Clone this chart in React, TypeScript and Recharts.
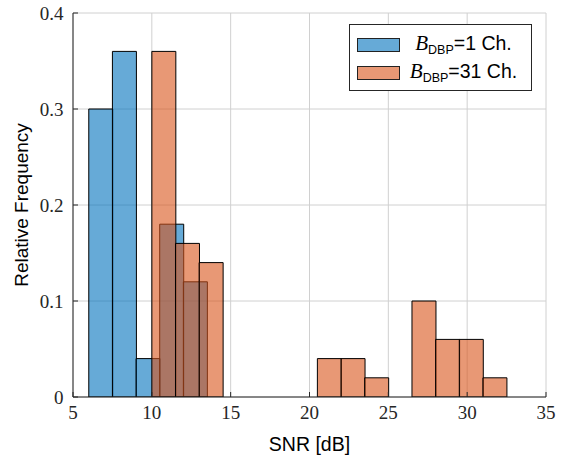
import { ComposedChart, Bar, XAxis, YAxis, CartesianGrid, Legend } from 'recharts';

// histogram bins (centres, width 1.5 dB) and relative frequencies
const centers1Ch = [6.75, 8.25, 9.75, 11.25, 12.75, 14.25, 15.75, 17.25, 18.75, 20.25, 21.75, 23.25, 24.75, 26.25, 27.75];
const freq1Ch = [0.3, 0.36, 0.04, 0.18, 0.12, 0, 0, 0, 0, 0, 0, 0, 0, 0, 0];
const centers31Ch = [10.75, 12.25, 13.75, 15.25, 16.75, 18.25, 19.75, 21.25, 22.75, 24.25, 25.75, 27.25, 28.75, 30.25, 31.75];
const freq31Ch = [0.36, 0.16, 0.14, 0, 0, 0, 0, 0.04, 0.04, 0.02, 0, 0.1, 0.06, 0.06, 0.02];

const xTicks = [5, 10, 15, 20, 25, 30, 35];
const yTicks = [0, 0.1, 0.2, 0.3, 0.4];
const legendLabels = ['=1 Ch.', '=31 Ch.'];

const data = freq31Ch.map((f, i) => ({
  x1: centers1Ch[i],
  f1: freq1Ch[i],
  x31: centers31Ch[i],
  f31: f,
}));

const BLUE = 'rgb(0,114,189)';
const ORANGE = 'rgb(217,83,25)';
const BLUE_LIGHT = 'rgba(0,114,189,0.6)';
const ORANGE_LIGHT = 'rgba(217,83,25,0.6)';
const AXIS = '#262626';
const SERIF = "'Liberation Serif'";
const SANS = "'Liberation Sans'";

const renderBottomTick = (props: any) => {
  const { x, y, payload } = props;
  return (
    <g key={`bt-${payload.value}`}>
      <line x1={x} y1={y} x2={x} y2={y - 5} stroke={AXIS} />
      <text x={x} y={y + 22} textAnchor="middle" fontFamily={SERIF} fontSize={19} fill={AXIS}>
        {String(payload.value)}
      </text>
    </g>
  );
};

const renderTopTick = (props: any) => {
  const { x, y, payload } = props;
  return <line key={`tt-${payload.value}`} x1={x} y1={y} x2={x} y2={y + 5} stroke={AXIS} />;
};

const renderLeftTick = (props: any) => {
  const { x, y, payload } = props;
  return (
    <g key={`lt-${payload.value}`}>
      <line x1={x} y1={y} x2={x + 5} y2={y} stroke={AXIS} />
      <text x={x - 9.5} y={y + 6.5} textAnchor="end" fontFamily={SERIF} fontSize={19} fill={AXIS}>
        {String(payload.value)}
      </text>
    </g>
  );
};

const renderRightTick = (props: any) => {
  const { x, y, payload } = props;
  return <line key={`rt-${payload.value}`} x1={x} y1={y} x2={x - 5} y2={y} stroke={AXIS} />;
};

const LegendBox = () => {
  const colors = [BLUE_LIGHT, ORANGE_LIGHT];
  return (
    <div
      style={{
        width: 183,
        height: 67,
        boxSizing: 'border-box',
        border: `1px solid ${AXIS}`,
        background: '#fff',
        position: 'relative',
      }}
    >
      {legendLabels.map((label, i) => (
        <div
          key={label}
          style={{ position: 'absolute', left: 7, top: 12 + i * 28, height: 15, width: 170, display: 'flex', alignItems: 'center' }}
        >
          <div
            style={{
              width: 43,
              height: 14,
              boxSizing: 'border-box',
              border: '1px solid #222',
              background: colors[i],
            }}
          />
          <div style={{ flex: 1, textAlign: 'center', whiteSpace: 'nowrap', color: '#000', lineHeight: '15px' }}>
            <span style={{ fontFamily: SERIF, fontStyle: 'italic', fontSize: 21 }}>B</span>
            <span style={{ fontFamily: SANS, fontSize: 12.5, position: 'relative', top: 4 }}>DBP</span>
            <span style={{ fontFamily: SANS, fontSize: 19.5 }}>{label}</span>
          </div>
        </div>
      ))}
    </div>
  );
};

export default function App() {
  return (
    <div style={{ position: 'absolute', left: 0, top: 0, background: '#fff' }}>
      <ComposedChart
        width={565}
        height={457}
        data={data}
        margin={{ top: 13, right: 19, left: 0, bottom: 0 }}
        barCategoryGap={0}
        barGap={0}
      >
        <CartesianGrid xAxisId="bottom" yAxisId="left" stroke="#d0d0d0" strokeWidth={1} />
        <XAxis
          xAxisId="bottom"
          dataKey="x1"
          type="number"
          domain={[5, 35]}
          ticks={xTicks}
          allowDataOverflow
          height={60}
          tickSize={0}
          tickMargin={0}
          tickLine={false}
          axisLine={{ stroke: AXIS }}
          tick={renderBottomTick}
          interval={0}
          label={(p: any) => (
            <text
              x={p.viewBox.x + p.viewBox.width / 2}
              y={p.viewBox.y + 53.5}
              textAnchor="middle"
              fontFamily={SANS}
              fontSize={19.5}
              fill="#000"
            >
              SNR [dB]
            </text>
          )}
        />
        <XAxis
          xAxisId="top"
          orientation="top"
          dataKey="x31"
          type="number"
          domain={[5, 35]}
          ticks={xTicks}
          allowDataOverflow
          height={0}
          tickSize={0}
          tickMargin={0}
          tickLine={false}
          axisLine={{ stroke: AXIS }}
          tick={renderTopTick}
          interval={0}
        />
        <YAxis
          yAxisId="left"
          type="number"
          domain={[0, 0.4]}
          ticks={yTicks}
          allowDataOverflow
          width={73}
          tickSize={0}
          tickMargin={0}
          tickLine={false}
          axisLine={{ stroke: AXIS }}
          tick={renderLeftTick}
          interval={0}
          label={(p: any) => {
            const cx = 28;
            const cy = p.viewBox.y + p.viewBox.height / 2;
            return (
              <text
                x={cx}
                y={cy}
                transform={`rotate(-90 ${cx} ${cy})`}
                textAnchor="middle"
                fontFamily={SANS}
                fontSize={19}
                fill="#000"
              >
                Relative Frequency
              </text>
            );
          }}
        />
        <YAxis
          yAxisId="right"
          orientation="right"
          type="number"
          domain={[0, 0.4]}
          ticks={yTicks}
          allowDataOverflow
          width={0}
          tickSize={0}
          tickMargin={0}
          tickLine={false}
          axisLine={{ stroke: AXIS }}
          tick={renderRightTick}
          interval={0}
        />
        <Bar
          xAxisId="bottom"
          yAxisId="left"
          dataKey="f1"
          fill={BLUE}
          fillOpacity={0.6}
          stroke="#000"
          strokeWidth={1}
          isAnimationActive={false}
        />
        <Bar
          xAxisId="top"
          yAxisId="left"
          dataKey="f31"
          fill={ORANGE}
          fillOpacity={0.6}
          stroke="#000"
          strokeWidth={1}
          isAnimationActive={false}
        />
        <Legend
          layout="vertical"
          align="center"
          verticalAlign="middle"
          content={<LegendBox />}
          wrapperStyle={{ left: 349, top: 24, width: 183, height: 67, right: 'auto', bottom: 'auto' }}
        />
      </ComposedChart>
    </div>
  );
}
